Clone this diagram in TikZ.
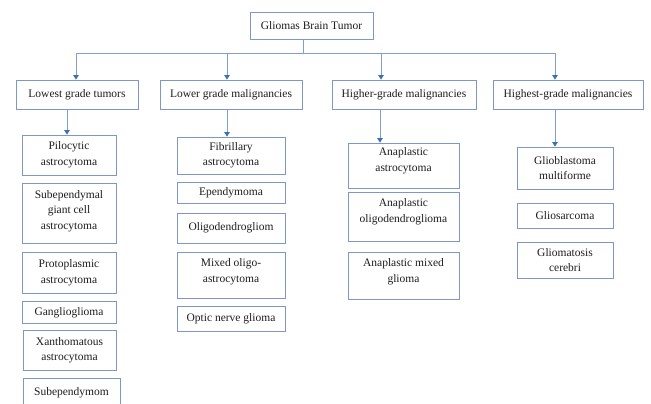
\documentclass[tikz,border=0pt]{standalone}
\usepackage{fontspec}
\setmainfont{Liberation Serif}
\usetikzlibrary{arrows.meta}
\definecolor{boxline}{HTML}{7E98C5}
\definecolor{conn}{HTML}{7F9FCD}
\definecolor{tipblue}{HTML}{3F6FB2}
\definecolor{txt}{HTML}{1E1E1E}
\begin{document}
\begin{tikzpicture}[x=1pt,y=-1pt,
  box/.style={draw=boxline,line width=0.8pt,fill=white,text=txt,align=center,inner sep=0pt,
    font=\fontsize{11.5}{15.5}\selectfont},
  label text/.style={text=txt,align=center,inner sep=0pt,font=\fontsize{11.5}{15.5}\selectfont},
  conn/.style={draw=conn,line width=0.9pt},
  arr/.style={conn,-{Triangle[width=5.5pt,length=4.5pt,color=tipblue]}}]
\useasboundingbox (0,0) rectangle (651,404);
\clip (0,0) rectangle (651,404);
\fill[white] (0,0) rectangle (651,404);
% root
\node[box,minimum width=123pt,minimum height=27pt] (root) at (311.5,25.5) {Gliomas Brain Tumor};
% level 1
\node[box,minimum width=122pt,minimum height=29pt] (b1) at (77,94.5) {Lowest grade tumors};
\node[box,minimum width=142pt,minimum height=29pt] (b2) at (231,94.5) {Lower grade malignancies};
\node[box,minimum width=144pt,minimum height=29pt] (b3) at (404,94.5) {Higher-grade malignancies};
\node[box,minimum width=150pt,minimum height=29pt] (b4) at (568,94.5) {Highest-grade malignancies};
% column 1
\node[box,minimum width=94pt,minimum height=40pt] (c1a) at (69,155) {Pilocytic\\astrocytoma};
\node[box,minimum width=94pt,minimum height=60pt] (c1b) at (69,213) {};
\node[label text] (c1bt) at ([yshift=2pt]c1b.center) {Subependymal\\giant cell\\astrocytoma};
\node[box,minimum width=94pt,minimum height=41pt] (c1c) at (69,272.5) {Protoplasmic\\astrocytoma};
\node[box,minimum width=94pt,minimum height=22pt] (c1d) at (69,312.5) {Ganglioglioma};
\node[box,minimum width=93pt,minimum height=40pt] (c1e) at (69.5,350) {Xanthomatous\\astrocytoma};
\node[box,minimum width=97pt,minimum height=30pt] (c1f) at (71.5,393) {Subependymom};
% column 2
\node[box,minimum width=108pt,minimum height=37pt] (c2a) at (231,155.5) {Fibrillary\\astrocytoma};
\node[box,minimum width=108pt,minimum height=21pt] (c2b) at (231,192.5) {Ependymoma};
\node[box,minimum width=108pt,minimum height=30pt] (c2c) at (231,228) {Oligodendrogliom};
\node[box,minimum width=108pt,minimum height=46pt] (c2d) at (231,275) {};
\node[label text] (c2dt) at ([yshift=3.5pt]c2d.center) {Mixed oligo-\\astrocytoma};
\node[box,minimum width=108pt,minimum height=25pt] (c2e) at (231,318.5) {Optic nerve glioma};
% column 3
\node[box,minimum width=111pt,minimum height=45pt] (c3a) at (403.5,165.5) {};
\node[label text] (c3at) at ([yshift=4.5pt]c3a.center) {Anaplastic\\astrocytoma};
\node[box,minimum width=111pt,minimum height=49pt] (c3b) at (403.5,216.5) {};
\node[label text] (c3bt) at ([yshift=4.5pt]c3b.center) {Anaplastic\\oligodendroglioma};
\node[box,minimum width=111pt,minimum height=47pt] (c3c) at (403.5,275.5) {};
\node[label text] (c3ct) at ([yshift=4pt]c3c.center) {Anaplastic mixed\\glioma};
% column 4
\node[box,minimum width=96pt,minimum height=42pt] (c4a) at (565,168) {Glioblastoma\\multiforme};
\node[box,minimum width=96pt,minimum height=25pt] (c4b) at (565,215.5) {Gliosarcoma};
\node[box,minimum width=96pt,minimum height=36pt] (c4c) at (565,260) {Gliomatosis\\cerebri};
% bus
\coordinate (j0) at (303,53);
\coordinate (t1) at (76,53);
\coordinate (t2) at (227,53);
\coordinate (t3) at (381,53);
\coordinate (t4) at (555,53);
\draw[conn] (root.south -| j0) -- (j0);
\draw[conn] (t1) -- (t4);
\draw[arr] (t1) -- (t1 |- b1.north);
\draw[arr] (t2) -- (t2 |- b2.north);
\draw[arr] (t3) -- (t3 |- b3.north);
\draw[arr] (t4) -- (t4 |- b4.north);
% level 2 arrows
\coordinate (d1) at (67,0);
\coordinate (d2) at (227,0);
\coordinate (d3) at (380,0);
\coordinate (d4) at (555,0);
\draw[arr] (b1.south -| d1) -- (c1a.north -| d1);
\draw[arr] (b2.south -| d2) -- (c2a.north -| d2);
\draw[arr] (b3.south -| d3) -- (c3a.north -| d3);
\draw[arr] (b4.south -| d4) -- (c4a.north -| d4);
\end{tikzpicture}
\end{document}
